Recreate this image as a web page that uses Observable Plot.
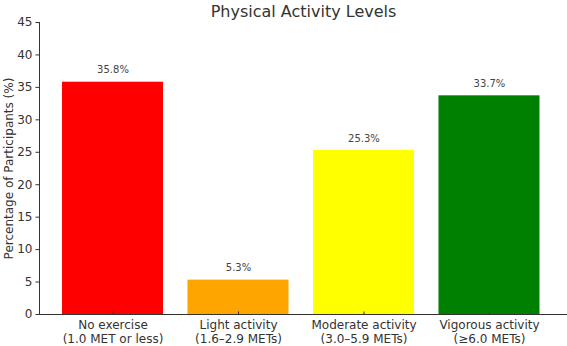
<!DOCTYPE html>
<html>
<head>
<meta charset="utf-8">
<script src="https://cdn.jsdelivr.net/npm/d3@7"></script>
<script src="https://cdn.jsdelivr.net/npm/@observablehq/plot@0.6"></script>
<style>
  html, body { margin: 0; padding: 0; background: #fff; }
  #chart svg { font-family: "DejaVu Sans", sans-serif; }
</style>
</head>
<body>
<div id="chart"></div>
<script>
// Share of participants at each physical activity level
const categories = [
  "No exercise\n(1.0 MET or less)",
  "Light activity\n(1.6–2.9 METs)",
  "Moderate activity\n(3.0–5.9 METs)",
  "Vigorous activity\n(≥6.0 METs)"
];
const percentages = [35.8, 5.3, 25.3, 33.7];
const barColors = ["#ff0000", "#ffa500", "#ffff00", "#008000"];
const yTicks = [0, 5, 10, 15, 20, 25, 30, 35, 40, 45];
const title = "Physical Activity Levels";
const yLabel = "Percentage of Participants (%)";

const data = categories.map((c, i) => ({category: c, value: percentages[i], color: barColors[i]}));

const chart = Plot.plot({
  width: 567,
  height: 346,
  marginLeft: 39,
  marginRight: 0,
  marginTop: 22,
  marginBottom: 32,
  style: {fontFamily: "DejaVu Sans, sans-serif", color: "#333", background: "#fff"},
  // bars sit inside the axis with an outer gap matching the inner gap
  x: {domain: categories, range: [62, 539.5], paddingInner: 0.195, paddingOuter: 0, round: false},
  y: {domain: [0, 45]},
  marks: [
    Plot.barY(data, {x: "category", y: "value", fill: "color"}),
    Plot.text(data, {
      x: "category", y: "value", text: d => d.value.toFixed(1) + "%",
      dy: -12, fontSize: 10, fill: "#444"
    }),
    Plot.axisY({
      ticks: yTicks, tickSize: 3.5, tickPadding: 3.5, fontSize: 12,
      stroke: "#333", fill: "#333",
      label: yLabel, labelAnchor: "center", labelArrow: "none", labelOffset: 35
    }),
    Plot.axisX({
      tickSize: 3.5, tickPadding: 3, fontSize: 12, lineHeight: 1.2,
      dy: -2.5, stroke: "#333", fill: "#333", label: null
    }),
    Plot.frame({anchor: "left", stroke: "#333"}),
    Plot.frame({anchor: "bottom", stroke: "#333"}),
    Plot.text([title], {frameAnchor: "top", lineAnchor: "middle", dy: -11, fontSize: 16, fill: "#333"})
  ]
});

document.getElementById("chart").appendChild(chart);
</script>
</body>
</html>
